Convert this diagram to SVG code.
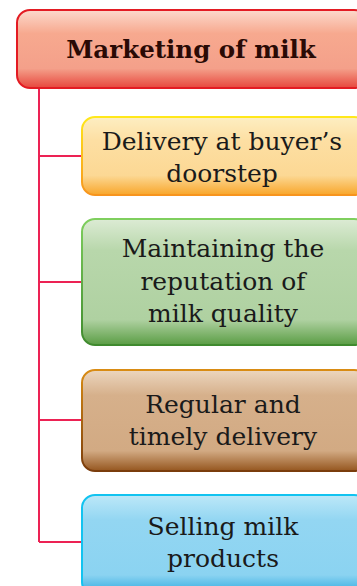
<svg xmlns="http://www.w3.org/2000/svg" width="357" height="586" viewBox="0 0 357 586">
<defs>
<linearGradient id="gRed" x1="0" y1="0" x2="0" y2="1">
<stop offset="0" stop-color="#fcd9cc"/><stop offset="0.3" stop-color="#f7a98f"/><stop offset="0.75" stop-color="#f4a08a"/><stop offset="1" stop-color="#e7463d"/>
</linearGradient>
<linearGradient id="gYel" x1="0" y1="0" x2="0" y2="1">
<stop offset="0" stop-color="#fdeec2"/><stop offset="0.3" stop-color="#fddfa3"/><stop offset="0.75" stop-color="#fcd894"/><stop offset="1" stop-color="#f8a62a"/>
</linearGradient>
<linearGradient id="gYelS" x1="0" y1="0" x2="0" y2="1">
<stop offset="0" stop-color="#ffe81a"/><stop offset="1" stop-color="#f7941d"/>
</linearGradient>
<linearGradient id="gGrn" x1="0" y1="0" x2="0" y2="1">
<stop offset="0" stop-color="#dcebd4"/><stop offset="0.25" stop-color="#b8d7ab"/><stop offset="0.8" stop-color="#afd1a1"/><stop offset="1" stop-color="#5a9d44"/>
</linearGradient>
<linearGradient id="gGrnS" x1="0" y1="0" x2="0" y2="1">
<stop offset="0" stop-color="#7fcf5e"/><stop offset="1" stop-color="#3f8a2e"/>
</linearGradient>
<linearGradient id="gBrn" x1="0" y1="0" x2="0" y2="1">
<stop offset="0" stop-color="#ecd6bf"/><stop offset="0.25" stop-color="#d6b08b"/><stop offset="0.8" stop-color="#d2aa83"/><stop offset="1" stop-color="#95561f"/>
</linearGradient>
<linearGradient id="gBrnS" x1="0" y1="0" x2="0" y2="1">
<stop offset="0" stop-color="#d98c14"/><stop offset="1" stop-color="#7a3c0c"/>
</linearGradient>
<linearGradient id="gBlu" x1="0" y1="0" x2="0" y2="1">
<stop offset="0" stop-color="#bde8f8"/><stop offset="0.25" stop-color="#93d6f2"/><stop offset="0.8" stop-color="#8bd3f1"/><stop offset="1" stop-color="#2aa8df"/>
</linearGradient>
<style>
.conn{stroke:#ec2254;stroke-width:2;fill:none}
.t{font-family:"DejaVu Serif","Liberation Serif",serif;font-size:25px;fill:#1a1a1a;text-anchor:middle}
.title{font-family:"DejaVu Serif","Liberation Serif",serif;font-size:24.5px;font-weight:bold;fill:#2a0a05;text-anchor:middle}
</style>
</defs>
<g id="connectors">
<path class="conn" d="M39 88 V542 M39 156 H83 M39 282 H83 M39 420 H83 M39 542 H83"/>
</g>
<g id="title">
<rect x="17" y="10" width="350" height="78" rx="13" fill="url(#gRed)" stroke="#e31b23" stroke-width="2"/>
<text class="title" x="191" y="58">Marketing of milk</text>
</g>
<g id="n1">
<rect x="82" y="117" width="285" height="78" rx="13" fill="url(#gYel)" stroke="url(#gYelS)" stroke-width="2"/>
<text class="t" x="222" y="150">Delivery at buyer’s</text>
<text class="t" x="222" y="182">doorstep</text>
</g>
<g id="n2">
<rect x="82" y="219" width="285" height="126" rx="13" fill="url(#gGrn)" stroke="url(#gGrnS)" stroke-width="2"/>
<text class="t" x="223" y="257">Maintaining the</text>
<text class="t" x="223" y="290">reputation of</text>
<text class="t" x="223" y="322">milk quality</text>
</g>
<g id="n3">
<rect x="82" y="370" width="285" height="101" rx="13" fill="url(#gBrn)" stroke="url(#gBrnS)" stroke-width="2"/>
<text class="t" x="223" y="413">Regular and</text>
<text class="t" x="223" y="445">timely delivery</text>
</g>
<g id="n4">
<rect x="82" y="495" width="285" height="100" rx="13" fill="url(#gBlu)" stroke="#12c3f0" stroke-width="2"/>
<text class="t" x="223" y="535">Selling milk</text>
<text class="t" x="223" y="567">products</text>
</g>
</svg>
